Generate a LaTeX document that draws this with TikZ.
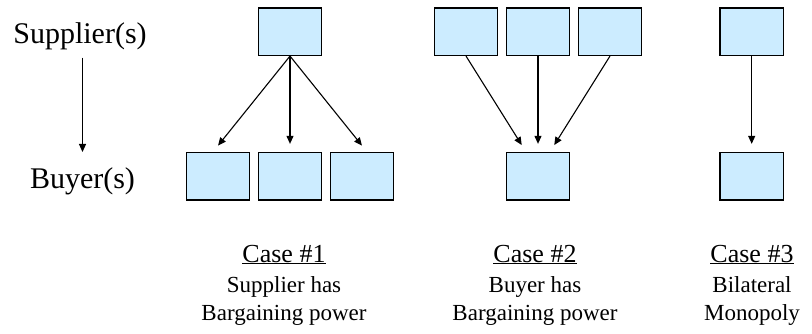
\documentclass[tikz,border=0pt]{standalone}
\usepackage{fontspec}
\setmainfont{Liberation Serif}
\usetikzlibrary{arrows.meta}
\definecolor{boxblue}{HTML}{CCECFF}
\begin{document}
\begin{tikzpicture}[x=1pt,y=-1pt,
  firm/.style={draw=black, fill=boxblue, line width=1.3pt,
    minimum width=63.3pt, minimum height=47.4pt, inner sep=0pt},
  flow/.style={-{Triangle[length=8pt,width=7pt]}, line width=1.1pt, shorten >=8pt},
  casehead/.style={font=\fontsize{26}{30}\selectfont, inner sep=0pt, anchor=base},
  caseline/.style={font=\fontsize{23}{27}\selectfont, inner sep=0pt, anchor=base},
  side/.style={font=\fontsize{30}{34}\selectfont, inner sep=0pt, anchor=base}]
\useasboundingbox (0,0) rectangle (812,333);

% axis labels on the left
\node[side] (sup) at (80,43) {Supplier(s)};
\node[side] (buy) at (82.5,188) {Buyer(s)};
\draw[flow, shorten <=8pt, shorten >=15pt] (sup.south -| buy.north) -- (buy.north);

% case 1: one supplier, three buyers
\node[firm] (s1)  at (290,31.7) {};
\node[firm] (b1a) at (218,176.2) {};
\node[firm] (b1b) at (290,176.2) {};
\node[firm] (b1c) at (362,176.2) {};
\draw[flow] (s1.south) -- ([xshift=-5pt]b1a.north);
\draw[flow] (s1.south) -- (b1b.north);
\draw[flow] (s1.south) -- ([xshift=5pt]b1c.north);

% case 2: three suppliers, one buyer
\node[firm] (s2a) at (466,31.7) {};
\node[firm] (s2b) at (538,31.7) {};
\node[firm] (s2c) at (610,31.7) {};
\node[firm] (b2)  at (538,176.2) {};
\draw[flow] (s2a.south) -- ([xshift=-12pt]b2.north);
\draw[flow] (s2b.south) -- (b2.north);
\draw[flow] (s2c.south) -- ([xshift=12pt]b2.north);

% case 3: one supplier, one buyer
\node[firm] (s3) at (751.7,31.7) {};
\node[firm] (b3) at (751.7,176.2) {};
\draw[flow] (s3.south) -- (b3.north);

% captions
\node[casehead] (c1)  at (284,262) {\underline{Case \#1}};
\node[caseline] (c1a) at (284,292) {Supplier has};
\node[caseline] (c1b) at (284,320) {Bargaining power};
\node[casehead] (c2)  at (535,262) {\underline{Case \#2}};
\node[caseline] (c2a) at (535,292) {Buyer has};
\node[caseline] (c2b) at (535,320) {Bargaining power};
\node[casehead] (c3)  at (752,262) {\underline{Case \#3}};
\node[caseline] (c3a) at (752,292) {Bilateral};
\node[caseline] (c3b) at (752,320) {Monopoly};
\end{tikzpicture}
\end{document}
